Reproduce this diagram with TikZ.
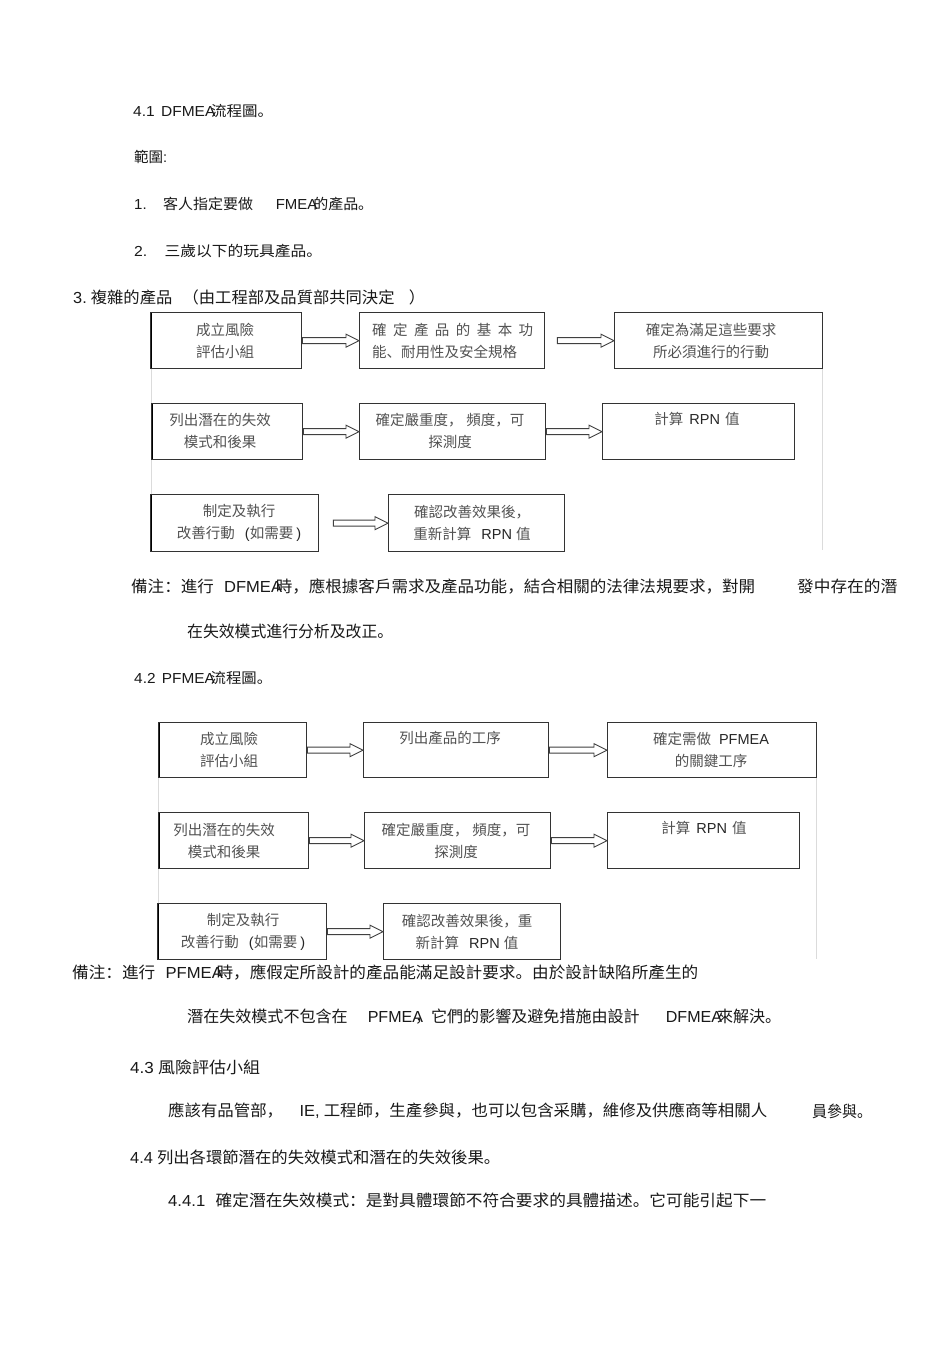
\documentclass[tikz,border=0pt]{standalone}
\usepackage{graphicx}
\usepackage{fontspec}
\setmainfont{Noto Sans CJK SC}
\newfontfamily\lat{Liberation Sans}
\usetikzlibrary{calc}
\newcommand\fitto[2]{\resizebox{#1}{\height}{#2}}
\tikzset{
  bt/.style={anchor=west, inner sep=0pt, text=black!90, font=\fontsize{16}{19}\selectfont},
  bts/.style={bt, font=\fontsize{14.5}{18}\selectfont},
  box/.style={draw=black!80, line width=1.3pt, fill=white, anchor=north west, inner sep=0pt, minimum height=56pt},
  leftthick/.style={path picture={\draw[black, line width=2.6pt] (path picture bounding box.north west) -- (path picture bounding box.south west);}},
  btxt/.style={inner sep=0pt, align=center, text=black!68, font=\fontsize{14.5}{22.5}\selectfont},
  framec/.style={draw=black!14, line width=0.8pt},
  hollow/.style={draw=black!75, line width=0.9pt, fill=white, line join=miter,
    to path={let \p1=(\tikztostart), \p2=(\tikztotarget) in
      (\x1,\y1+3pt) -- (\x2-13pt,\y1+3pt) -- (\x2-13pt,\y1+6.5pt) -- (\x2,\y1)
      -- (\x2-13pt,\y1-6.5pt) -- (\x2-13pt,\y1-3pt) -- (\x1,\y1-3pt) -- cycle}}
}
\begin{document}
\begin{tikzpicture}[x=1pt,y=-1pt]
\path[use as bounding box, fill=white] (0,0) rectangle (950,1345);

% ---------- heading texts ----------
\node[bts] (t41) at (133,111) {\fitto{140pt}{{\lat 4.1\hspace{6pt}DFMEA}\hspace{-4pt}流程圖。}};
\node[bts] (tfw) at (134,157) {範圍{\lat :}};
\node[bts] (t1) at (134,204) {\fitto{239pt}{{\lat 1.}\hspace{16pt}客人指定要做\hspace{22pt}{\lat FMEA}\hspace{-4pt}的產品。}};
\node[bts] (t2) at (134,251) {\fitto{188pt}{{\lat 2.}\hspace{16pt}三歲以下的玩具產品。}};
\node[bt] (t3) at (73,297) {\fitto{352pt}{{\lat 3.}\hspace{4pt}複雜的產品\hspace{10pt}（由工程部及品質部共同決定\hspace{14pt}）}};

% ---------- DFMEA frame ----------
\draw[framec] (151,312) -- (151,550);
\draw[framec] (822,368) -- (822,550);

% ---------- DFMEA boxes ----------
\node[box, leftthick, minimum width=151pt] (a1) at (150,312) {};
\node[box, minimum width=185pt] (a2) at (359,312) {};
\node[box, minimum width=208pt] (a3) at (614,312) {};
\node[box, leftthick, minimum width=151pt] (a4) at (151,403) {};
\node[box, minimum width=186pt] (a5) at (359,403) {};
\node[box, minimum width=192pt] (a6) at (602,403) {};
\node[box, leftthick, minimum width=168pt, minimum height=57pt] (a7) at (150,494) {};
\node[box, minimum width=176pt, minimum height=57pt] (a8) at (388,494) {};

\node[btxt] (a1t) at (225,341) {成立風險\\評估小組};
\node[btxt, anchor=west, align=left] (a2t) at (372,341) {\makebox[161pt][s]{確 定 產 品 的 基 本 功}\\能、耐用性及安全規格};
\node[btxt] (a3t) at (711,341) {確定為滿足這些要求\\所必須進行的行動};
\node[btxt] (a4t) at (220,431) {列出潛在的失效\\模式和後果};
\node[btxt] (a5t) at (450,431) {確定嚴重度，\hspace{4pt}頻度，可\\探測度};
\node[btxt] (a6t) at (697,419) {計算\hspace{6pt}{\lat\color{black!85}RPN}\hspace{5pt}值};
\node[btxt] (a7t) at (239,523) {制定及執行\\改善行動\hspace{10pt}{\lat\color{black!85}(}如需要\hspace{3pt}{\lat\color{black!85})}};
\node[btxt] (a8t) at (472,523) {確認改善效果後，\\重新計算\hspace{10pt}{\lat\color{black!85}RPN}\hspace{4pt}值};

\path[hollow] (a1.east) to (a2.west);
\path[hollow] ([xshift=12pt]a2.east) to (a3.west);
\path[hollow] (a4.east) to (a5.west);
\path[hollow] (a5.east) to (a6.west);
\path[hollow] ([xshift=14pt]a7.east) to (a8.west);

% ---------- note 1 ----------
\node[bt] (n1a) at (131,586) {\fitto{624pt}{備注：進行\hspace{10pt}{\lat DFMEA}\hspace{-6pt}時，應根據客戶需求及產品功能，結合相關的法律法規要求，對開}};
\node[bt] (n1b) at (797,586) {\fitto{100pt}{發中存在的潛}};
\node[bt] (n1c) at (187,631) {\fitto{206pt}{在失效模式進行分析及改正。}};

\node[bts] (t42) at (134,678) {\fitto{138pt}{{\lat 4.2\hspace{6pt}PFMEA}\hspace{-4pt}流程圖。}};

% ---------- PFMEA frame ----------
\draw[framec] (158,722) -- (158,959);
\draw[framec] (816,777) -- (816,959);

% ---------- PFMEA boxes ----------
\node[box, leftthick, minimum width=148pt, minimum height=55pt] (b1) at (158,722) {};
\node[box, minimum width=185pt, minimum height=55pt] (b2) at (363,722) {};
\node[box, minimum width=209pt, minimum height=55pt] (b3) at (607,722) {};
\node[box, leftthick, minimum width=150pt] (b4) at (158,812) {};
\node[box, minimum width=186pt] (b5) at (364,812) {};
\node[box, minimum width=192pt] (b6) at (607,812) {};
\node[box, leftthick, minimum width=169pt] (b7) at (157,903) {};
\node[box, minimum width=177pt] (b8) at (383,903) {};

\node[btxt] (b1t) at (229,750) {成立風險\\評估小組};
\node[btxt] (b2t) at (450,738) {列出產品的工序};
\node[btxt] (b3t) at (711,750) {確定需做\hspace{8pt}{\lat\color{black!85}PFMEA}\\的關鍵工序};
\node[btxt] (b4t) at (224,841) {列出潛在的失效\\模式和後果};
\node[btxt] (b5t) at (456,841) {確定嚴重度，\hspace{4pt}頻度，可\\探測度};
\node[btxt] (b6t) at (704,828) {計算\hspace{6pt}{\lat\color{black!85}RPN}\hspace{5pt}值};
\node[btxt] (b7t) at (243,932) {制定及執行\\改善行動\hspace{10pt}{\lat\color{black!85}(}如需要\hspace{3pt}{\lat\color{black!85})}};
\node[btxt] (b8t) at (467,932) {確認改善效果後，重\\新計算\hspace{10pt}{\lat\color{black!85}RPN}\hspace{4pt}值};

\path[hollow] (b1.east) to (b2.west);
\path[hollow] (b2.east) to (b3.west);
\path[hollow] (b4.east) to (b5.west);
\path[hollow] (b5.east) to (b6.west);
\path[hollow] (b7.east) to (b8.west);

% ---------- note 2 and following ----------
\node[bt] (n2a) at (72,972) {\fitto{626pt}{備注：進行\hspace{10pt}{\lat PFMEA}\hspace{-6pt}時，應假定所設計的產品能滿足設計要求。由於設計缺陷所產生的}};
\node[bt] (n2b) at (187,1017) {\fitto{594pt}{潛在失效模式不包含在\hspace{20pt}{\lat PFMEA}\hspace{-8pt}，它們的影響及避免措施由設計\hspace{26pt}{\lat DFMEA}\hspace{-5pt}來解決。}};
\node[bt] (t43) at (130,1067) {\fitto{130pt}{{\lat 4.3}\hspace{4pt}風險評估小組}};
\node[bt] (t43a) at (168,1111) {\fitto{599pt}{應該有品管部，\hspace{16pt}{\lat IE,}\hspace{4pt}工程師，生產參與，也可以包含采購，維修及供應商等相關人}};
\node[bt] (t43b) at (812,1111) {\fitto{60pt}{員參與。}};
\node[bt] (t44) at (130,1157) {\fitto{370pt}{{\lat 4.4}\hspace{4pt}列出各環節潛在的失效模式和潛在的失效後果。}};
\node[bt] (t441) at (168,1200) {\fitto{598pt}{{\lat 4.4.1}\hspace{10pt}確定潛在失效模式：是對具體環節不符合要求的具體描述。它可能引起下一}};
\end{tikzpicture}
\end{document}
